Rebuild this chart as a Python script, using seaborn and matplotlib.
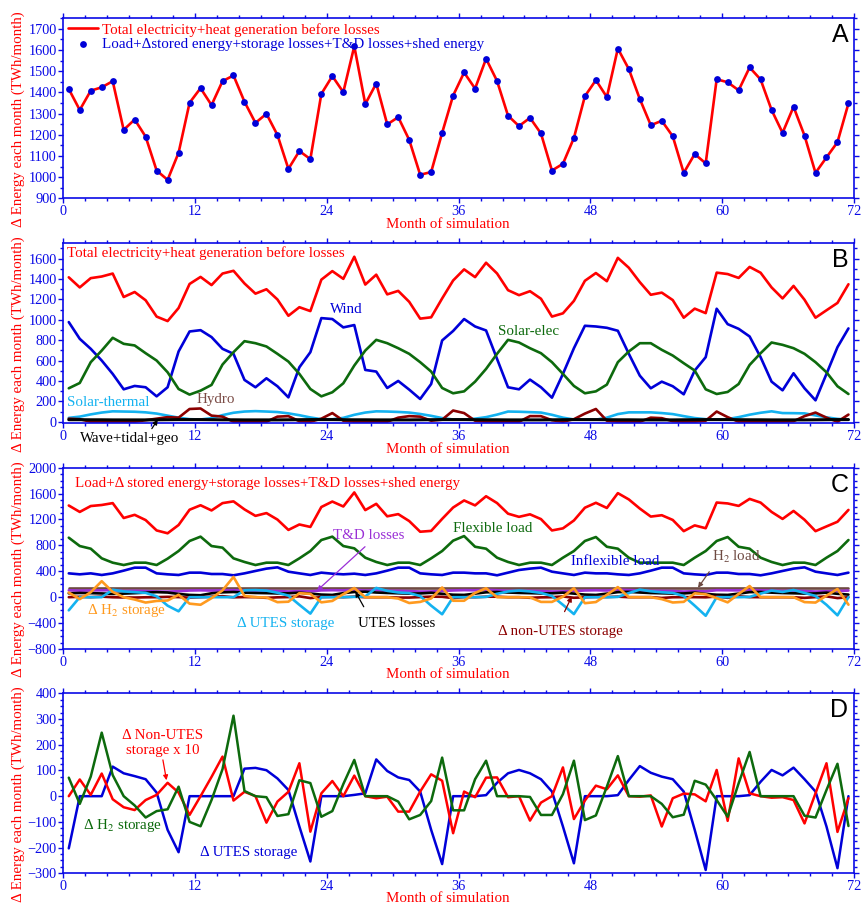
import numpy as np
import matplotlib
matplotlib.use("Agg")
import matplotlib.pyplot as plt
import seaborn as sns
from matplotlib.ticker import MultipleLocator

sns.set_style("ticks")
plt.rcParams["font.family"] = ["Liberation Serif", "DejaVu Serif"]
plt.rcParams["mathtext.fontset"] = "stix"

# ---------------- data (TWh/month), 72 months ----------------
month = np.arange(72) + 0.5

total_generation = [1416, 1317, 1408, 1424, 1453, 1223, 1272, 1191, 1031, 987, 1115, 1351,
                    1420, 1340, 1453, 1480, 1356, 1256, 1299, 1199, 1039, 1123, 1085, 1393,
                    1477, 1401, 1618, 1345, 1442, 1249, 1283, 1176, 1011, 1024, 1209, 1385,
                    1494, 1418, 1559, 1454, 1290, 1241, 1280, 1206, 1031, 1063, 1185, 1382,
                    1458, 1378, 1607, 1510, 1369, 1245, 1266, 1193, 1020, 1109, 1065, 1462,
                    1448, 1410, 1518, 1461, 1317, 1209, 1332, 1196, 1020, 1093, 1165, 1348]

load_side_total = [1416, 1317, 1408, 1424, 1453, 1223, 1272, 1191, 1031, 987, 1115, 1351,
                   1420, 1340, 1453, 1480, 1356, 1256, 1299, 1199, 1039, 1123, 1085, 1393,
                   1477, 1401, 1618, 1345, 1442, 1249, 1283, 1176, 1011, 1024, 1209, 1385,
                   1494, 1418, 1559, 1454, 1290, 1241, 1280, 1206, 1031, 1063, 1185, 1382,
                   1458, 1378, 1607, 1510, 1369, 1245, 1266, 1193, 1020, 1109, 1065, 1462,
                   1448, 1410, 1518, 1461, 1317, 1209, 1332, 1196, 1020, 1093, 1165, 1348]

wind = [977, 813, 715, 600, 469, 318, 351, 338, 249, 338, 689, 885,
        898, 830, 715, 666, 410, 338, 426, 348, 239, 534, 682, 1016,
        1007, 925, 948, 508, 492, 331, 400, 315, 223, 370, 797, 890,
        1007, 934, 895, 616, 338, 318, 413, 338, 236, 469, 721, 941,
        934, 921, 892, 666, 452, 328, 393, 348, 269, 502, 633, 1108,
        957, 911, 836, 633, 393, 308, 475, 328, 210, 469, 731, 915]

solar_elec = [328, 380, 584, 698, 823, 764, 748, 672, 600, 485, 321, 266,
              305, 361, 561, 682, 790, 770, 738, 666, 590, 469, 321, 249,
              289, 377, 551, 698, 803, 770, 721, 666, 584, 492, 331, 279,
              298, 393, 518, 666, 803, 777, 721, 672, 584, 469, 351, 279,
              298, 364, 584, 689, 770, 770, 705, 649, 574, 502, 318, 272,
              292, 370, 557, 672, 777, 754, 721, 666, 584, 485, 348, 272]

solar_thermal = [38, 50, 72, 90, 102, 100, 98, 92, 80, 60, 40, 25,
                 22, 35, 65, 88, 100, 104, 100, 95, 82, 64, 42, 25,
                 24, 38, 68, 90, 102, 100, 96, 90, 76, 58, 36, 22,
                 20, 30, 45, 70, 100, 98, 94, 90, 68, 40, 22, 20,
                 20, 40, 75, 92, 92, 92, 85, 75, 55, 36, 25, 20,
                 26, 45, 69, 88, 102, 85, 84, 82, 62, 43, 28, 20]

hydro = [30, 25, 0, 0, 0, 0, 0, 15, 30, 45, 40, 125,
         130, 60, 50, 0, 0, 0, 0, 50, 55, 5, 0, 30,
         85, 10, 0, 0, 0, 0, 40, 55, 50, 10, 20, 110,
         85, 10, 0, 0, 0, 0, 55, 55, 15, 0, 25, 80,
         125, 10, 0, 0, 0, 40, 35, 5, 0, 0, 10, 100,
         45, 0, 0, 0, 0, 0, 5, 55, 90, 40, 0, 70]

wave_tidal_geo = [20, 20, 19, 19, 18, 18, 18, 18, 19, 20, 21, 21,
                  21, 20, 19, 19, 18, 18, 18, 18, 19, 20, 21, 21,
                  21, 20, 19, 19, 18, 18, 18, 18, 19, 20, 21, 21,
                  21, 20, 19, 19, 18, 18, 18, 18, 19, 20, 21, 21,
                  21, 20, 19, 19, 18, 18, 18, 18, 19, 20, 21, 21,
                  21, 20, 19, 19, 18, 18, 18, 18, 19, 20, 21, 21]

flexible_load = [919, 790, 749, 600, 533, 497, 533, 533, 497, 595, 713, 868,
                 935, 790, 765, 600, 544, 497, 533, 533, 497, 600, 713, 883,
                 935, 790, 754, 610, 544, 497, 533, 533, 497, 600, 713, 873,
                 944, 779, 749, 610, 544, 497, 533, 533, 497, 610, 713, 868,
                 929, 779, 749, 610, 533, 533, 533, 533, 497, 610, 713, 868,
                 929, 779, 749, 610, 544, 497, 533, 533, 497, 610, 713, 883]

inflexible_load = [368, 353, 368, 343, 368, 410, 456, 456, 368, 353, 343, 379,
                   379, 358, 358, 338, 368, 405, 441, 461, 394, 368, 343, 379,
                   363, 353, 363, 343, 368, 410, 456, 456, 368, 353, 343, 379,
                   379, 368, 368, 338, 379, 420, 441, 456, 394, 368, 343, 379,
                   368, 368, 353, 343, 368, 410, 456, 456, 368, 353, 343, 379,
                   379, 358, 358, 338, 368, 405, 441, 461, 394, 368, 343, 379]

td_losses = [106, 101, 105, 106, 107, 96, 99, 95, 88, 86, 92, 103,
             106, 102, 107, 108, 103, 98, 100, 95, 88, 92, 90, 105,
             108, 105, 115, 102, 107, 98, 99, 94, 87, 88, 96, 104,
             109, 106, 113, 107, 99, 97, 99, 95, 88, 89, 94, 104,
             107, 103, 115, 110, 103, 97, 98, 95, 87, 92, 90, 108,
             107, 105, 110, 107, 101, 96, 102, 95, 87, 91, 94, 102]

h2_load = [140, 140, 140, 140, 140, 140, 140, 140, 140, 140, 140, 140,
           140, 140, 140, 140, 140, 140, 140, 140, 140, 140, 140, 140,
           140, 140, 140, 140, 140, 140, 140, 140, 140, 140, 140, 140,
           140, 140, 140, 140, 140, 140, 140, 140, 140, 140, 140, 140,
           140, 140, 140, 140, 140, 140, 140, 140, 140, 140, 140, 140,
           140, 140, 140, 140, 140, 140, 140, 140, 140, 140, 140, 140]

utes_losses = [60, 65, 62, 58, 50, 55, 62, 70, 78, 72, 50, 35,
               30, 60, 75, 80, 70, 65, 62, 58, 60, 70, 55, 40,
               35, 62, 80, 85, 72, 65, 60, 55, 58, 68, 52, 38,
               35, 55, 75, 80, 72, 66, 62, 58, 60, 70, 55, 40,
               35, 55, 78, 82, 72, 64, 60, 56, 58, 70, 50, 38,
               35, 55, 78, 80, 70, 64, 60, 56, 58, 70, 52, 40]

d_utes_storage = [-203, 0, 0, 0, 115, 89, 78, 66, 14, -131, -218, 0,
                  0, 0, 0, 0, 107, 110, 101, 69, 24, -118, -254, 0,
                  0, 0, 5, 11, 143, 98, 73, 63, 18, -131, -264, 0,
                  0, 0, 4, 52, 89, 102, 89, 66, 18, -118, -261, 0,
                  0, 0, 4, 63, 117, 91, 76, 66, 18, -131, -287, 0,
                  0, 0, 4, 56, 102, 81, 111, 66, 18, -118, -280, 0]

d_h2_storage = [72, -30, 76, 247, 82, 0, -36, -83, -58, -51, 37, -100,
                -117, -15, 105, 313, 20, 0, -4, -77, -70, 62, 51, -80,
                -58, 47, 141, 0, 0, 0, -21, -90, -73, -19, 150, -55,
                -55, 66, 138, 0, 0, 0, -3, -73, -73, 8, 138, -93,
                -75, 37, 156, 0, 0, 0, -30, -82, -72, 60, 45, -15,
                -80, 50, 172, 0, 0, 0, 0, -76, -83, 24, 126, -116]

d_non_utes_x10 = [0, 65, 5, 88, -12, -43, -54, -15, 5, 52, 14, -73,
                  0, 75, 154, -17, 17, 0, -103, -21, 17, 128, -138, 11,
                  59, 0, 80, 0, -8, -2, -60, -60, 18, 85, 60, -144,
                  18, -4, 72, 73, -4, 0, -95, -25, 0, 112, -89, -17,
                  41, 27, 81, 0, -2, 3, -118, -8, 10, 7, -20, 102,
                  -96, 147, 11, 0, -6, -4, -15, -106, 11, 128, -139, -8]

d_non_utes = [v / 10.0 for v in d_non_utes_x10]

# ---------------- styling ----------------
RED = "#ff0000"
BLUE = "#0000d8"
AXBLUE = "#0a0ae6"
GREEN = "#0d6a0d"
CYAN = "#14b2f0"
MAROON = "#8b0000"
ORANGE = "#ff9a1f"
PURPLE = "#9a2fd6"
BROWN = "#6e4a42"
FS = 10.8
LW = 1.9

fig = plt.figure(figsize=(8.61, 9.05), dpi=100)
L, W = 0.0735, 0.9183
axA = fig.add_axes([L, 0.7809, W, 0.1989])
axB = fig.add_axes([L, 0.5323, W, 0.1989])
axC = fig.add_axes([L, 0.2829, W, 0.2003])
axD = fig.add_axes([L, 0.0350, W, 0.1989])


def style(ax, ylim, ymaj, ymin, letter, xlab_y):
    ax.set_xlim(0, 72)
    ax.set_ylim(*ylim)
    ax.xaxis.set_major_locator(MultipleLocator(12))
    ax.xaxis.set_minor_locator(MultipleLocator(2))
    ax.yaxis.set_major_locator(MultipleLocator(ymaj))
    ax.yaxis.set_minor_locator(MultipleLocator(ymin))
    ax.tick_params(which="both", direction="out", top=True, right=True,
                   labeltop=False, labelright=False, color=AXBLUE,
                   labelcolor=AXBLUE, labelsize=10.3, width=1.0)
    ax.tick_params(which="major", length=3.6, pad=1.2)
    ax.tick_params(which="minor", length=2.3)
    for s in ax.spines.values():
        s.set_visible(True)
        s.set_color(AXBLUE)
        s.set_linewidth(1.2)
    ax.set_xlabel("Month of simulation", color=RED, fontsize=FS)
    ax.xaxis.set_label_coords(0.486, xlab_y)
    ax.xaxis.label.set_va("top")
    ax.set_ylabel("\u0394 Energy each month (TWh/month)", color=RED, fontsize=FS)
    ax.yaxis.set_label_coords(-0.057, 0.44)
    ax.yaxis.label.set_va("center")
    ax.text(0.993, 0.972, letter, transform=ax.transAxes, ha="right", va="top",
            fontsize=18, family="Liberation Sans", color="black")


def line(ax, y, color, lw=LW, label=None, z=2):
    sns.lineplot(x=month, y=y, ax=ax, color=color, linewidth=lw, label=label,
                 sort=False, estimator=None, zorder=z)


def arrow(ax, xy, xytext, color):
    ax.annotate("", xy=xy, xycoords="data", xytext=xytext, textcoords="axes fraction",
                arrowprops=dict(arrowstyle="-|>", color=color, lw=0.9,
                                mutation_scale=7, shrinkA=0, shrinkB=0),
                annotation_clip=False)


# ---------------- Panel A ----------------
line(axA, total_generation, RED, label="Total electricity+heat generation before losses")
sns.scatterplot(x=month, y=load_side_total, ax=axA, color=BLUE, s=24, linewidth=0,
                label="Load+\u0394stored energy+storage losses+T&D losses+shed energy", zorder=3)
leg = axA.legend(loc="upper left", bbox_to_anchor=(0.0, 1.0), frameon=False, fontsize=FS,
                 handlelength=2.0, handletextpad=0.3, labelspacing=0.05,
                 borderaxespad=0.15, borderpad=0.15)
for t, c in zip(leg.get_texts(), [RED, BLUE]):
    t.set_color(c)
style(axA, (900, 1750), 100, 50, "A", -0.11)

# ---------------- Panel B ----------------
line(axB, total_generation, RED)
line(axB, wind, BLUE)
line(axB, solar_elec, GREEN)
line(axB, solar_thermal, CYAN)
line(axB, hydro, MAROON)
line(axB, wave_tidal_geo, "black", lw=2.2)
style(axB, (-15, 1750), 200, 100, "B", -0.11)
tB = axB.transAxes
axB.text(0.005, 0.946, "Total electricity+heat generation before losses", color=RED,
         fontsize=FS, transform=tB, va="center")
axB.text(0.358, 0.63, "Wind", color=BLUE, fontsize=FS, transform=tB, ha="center", va="center")
axB.text(0.55, 0.509, "Solar-elec", color=GREEN, fontsize=FS, transform=tB, va="center")
axB.text(0.005, 0.117, "Solar-thermal", color=CYAN, fontsize=FS, transform=tB, va="center")
axB.text(0.169, 0.133, "Hydro", color="#7a4a44", fontsize=FS, transform=tB, va="center")
axB.text(0.021, -0.085, "Wave+tidal+geo", color="black", fontsize=FS, transform=tB, va="center")
arrow(axB, (8.6, 20), (0.112, -0.03), "black")

# ---------------- Panel C ----------------
line(axC, load_side_total, RED)
line(axC, flexible_load, GREEN)
line(axC, inflexible_load, BLUE)
line(axC, h2_load, BROWN)
line(axC, td_losses, PURPLE)
line(axC, utes_losses, "black")
line(axC, d_non_utes, MAROON)
line(axC, d_utes_storage, CYAN)
line(axC, d_h2_storage, ORANGE)
style(axC, (-800, 2000), 400, 100, "C", -0.105)
tC = axC.transAxes
axC.text(0.015, 0.912, "Load+\u0394 stored energy+storage losses+T&D losses+shed energy",
         color=RED, fontsize=FS, transform=tC, va="center")
axC.text(0.493, 0.667, "Flexible load", color=GREEN, fontsize=FS, transform=tC, va="center")
axC.text(0.341, 0.627, "T&D losses", color=PURPLE, fontsize=FS, transform=tC, va="center")
arrow(axC, (23.1, 100), (0.3816, 0.564), PURPLE)
axC.text(0.642, 0.48, "Inflexible load", color=BLUE, fontsize=FS, transform=tC, va="center")
axC.text(0.82, 0.507, r"H$_2$ load", color=BROWN, fontsize=FS, transform=tC, va="center")
arrow(axC, (57.8, 145), (0.817, 0.426), BROWN)
axC.text(0.03, 0.211, "\u0394 H$_2$ storage", color=ORANGE,
         fontsize=FS, transform=tC, va="center")
axC.text(0.22, 0.142, "\u0394 UTES storage", color=CYAN, fontsize=FS, transform=tC, va="center")
axC.text(0.373, 0.142, "UTES losses", color="black", fontsize=FS, transform=tC, va="center")
arrow(axC, (26.6, 85), (0.38, 0.233), "black")
axC.text(0.55, 0.095, "\u0394 non-UTES storage", color=MAROON, fontsize=FS, transform=tC, va="center")
arrow(axC, (46.3, 8), (0.634, 0.206), MAROON)

# ---------------- Panel D ----------------
line(axD, d_utes_storage, BLUE, lw=1.8)
line(axD, d_non_utes_x10, RED, lw=1.8)
line(axD, d_h2_storage, GREEN, lw=1.8)
style(axD, (-300, 400), 100, 25, "D", -0.103)
tD = axD.transAxes
axD.text(0.1255, 0.724, "\u0394 Non-UTES\nstorage x 10", color=RED, fontsize=FS, transform=tD,
         ha="center", va="center", linespacing=1.15)
arrow(axD, (9.4, 62), (0.126, 0.63), RED)
axD.text(0.025, 0.264, "\u0394 H$_2$ storage", color=GREEN, fontsize=FS, transform=tD, va="center")
axD.text(0.173, 0.113, "\u0394 UTES storage", color=BLUE, fontsize=FS, transform=tD, va="center")

fig.savefig("out.png", dpi=100)
